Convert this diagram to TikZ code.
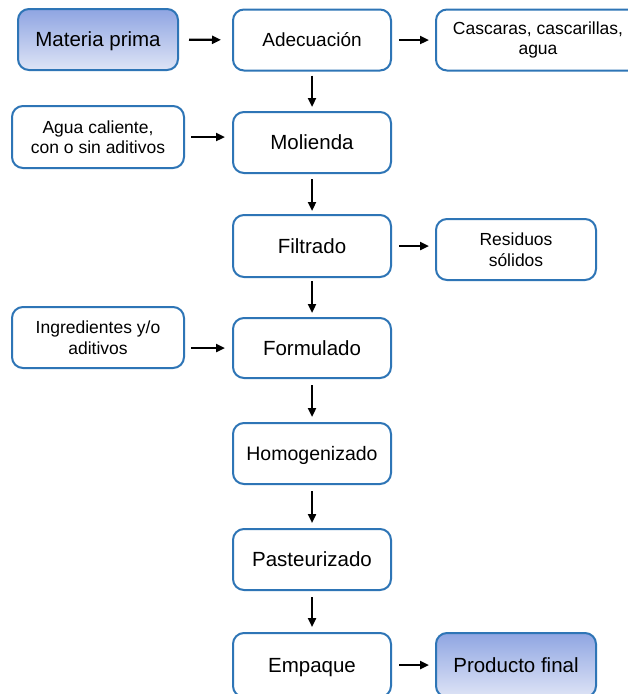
\documentclass[tikz,border=0pt]{standalone}
\usepackage{fontspec}
\setmainfont{Liberation Sans}
\usetikzlibrary{arrows.meta,shadings}
\definecolor{boxblue}{RGB}{46,117,182}
\definecolor{gtop}{RGB}{143,165,226}
\definecolor{gbot}{RGB}{222,228,246}
\tikzset{
  box/.style={draw=boxblue, line width=2pt, rounded corners=11pt, fill=white,
    align=center, inner sep=0pt, minimum height=61pt},
  mainbox/.style={box, minimum width=158pt, font=\fontsize{20.5}{24}\selectfont,
    text height=14.5pt, text depth=0pt},
  sidebox/.style={box, font=\fontsize{17.5}{20.5}\selectfont},
  endbox/.style={box, top color=gtop, bottom color=gbot, minimum width=160pt,
    font=\fontsize{20.5}{24}\selectfont, text height=14.5pt, text depth=0pt},
  flow/.style={-{Triangle[length=9pt,width=8pt]}, line width=2.3pt, black},
}
\begin{document}
\begin{tikzpicture}[x=1pt,y=-1pt]
\clip (0,0) rectangle (628,694);
\fill[white] (0,0) rectangle (628,694);
% main column
\node[mainbox, font=\fontsize{19}{22}\selectfont, text height=13.5pt] (ade) at (312,40) {Adecuación};
\node[mainbox] (mol) at (312,142.5) {Molienda};
\node[mainbox, minimum height=62pt] (fil) at (312,246) {Filtrado};
\node[mainbox, minimum height=60pt] (for) at (312,348) {Formulado};
\node[mainbox, font=\fontsize{19.5}{22}\selectfont, text height=14pt] (hom) at (312,453.5) {Homogenizado};
\node[mainbox] (pas) at (312,559.5) {Pasteurizado};
\node[mainbox, minimum height=64pt] (emp) at (312,665) {Empaque};
% start / end
\node[endbox] (mat) at (98,39.5) {Materia prima};
\node[endbox, minimum height=64pt] (pro) at (516,665) {Producto final};
% side boxes
\node[sidebox, minimum width=204pt] (cas) at (538,40) {Cascaras, cascarillas,\\agua};
\node[sidebox, minimum width=172pt, minimum height=62pt] (agu) at (98,137) {Agua caliente,\\con o sin aditivos};
\node[sidebox, minimum width=160pt] (res) at (516,249.5) {Residuos\\sólidos};
\node[sidebox, minimum width=172pt] (ing) at (98,337.5) {Ingredientes y/o\\aditivos};
% arrows
\draw[flow, shorten <=10pt, shorten >=11pt] (mat) -- (ade);
\draw[flow, shorten <=7pt, shorten >=6pt] (ade.east) -- (cas.west |- ade.east);
\draw[flow, shorten <=6pt, shorten >=7pt] (agu.east) -- (mol.west |- agu.east);
\draw[flow, shorten <=7pt, shorten >=6pt] (fil.east) -- (res.west |- fil.east);
\draw[flow, shorten <=6pt, shorten >=7pt] (ing.east |- for.west) -- (for.west);
\draw[flow, shorten <=7pt, shorten >=6pt] (emp) -- (pro);
\draw[flow, shorten <=4pt, shorten >=4pt] (ade) -- (mol);
\draw[flow, shorten <=5pt, shorten >=3pt] (mol) -- (fil);
\draw[flow, shorten <=3pt, shorten >=4pt] (fil) -- (for);
\draw[flow, shorten <=6pt, shorten >=5pt] (for) -- (hom);
\draw[flow, shorten <=6pt, shorten >=5pt] (hom) -- (pas);
\draw[flow, shorten <=6pt, shorten >=5pt] (pas) -- (emp);
\end{tikzpicture}
\end{document}
